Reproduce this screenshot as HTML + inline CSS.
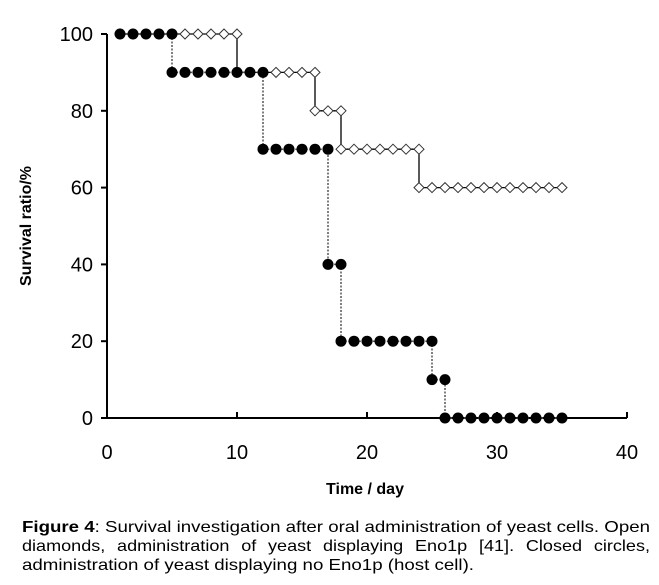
<!DOCTYPE html>
<html><head><meta charset="utf-8"><style>
html,body{margin:0;padding:0;background:#fff;}
svg{display:block;font-family:"Liberation Sans",Arial,sans-serif;}
</style></head><body>
<svg id="chart" width="659" height="585" viewBox="0 0 659 585">
<g id="axes"></g>
<g id="marks"></g>
<text x="31" y="226" transform="rotate(-90 31 226)" text-anchor="middle" font-size="16" font-weight="bold">Survival ratio/%</text>
<text x="365" y="494" text-anchor="middle" font-size="16" font-weight="bold">Time / day</text>
<g font-size="16">
<text x="22" y="532" textLength="628" lengthAdjust="spacingAndGlyphs"><tspan font-weight="bold">Figure 4</tspan>: Survival investigation after oral administration of yeast cells. Open</text>
<text x="22" y="551" textLength="628" lengthAdjust="spacingAndGlyphs" word-spacing="6">diamonds, administration of yeast displaying Eno1p [41]. Closed circles,</text>
<text x="22" y="570" textLength="452" lengthAdjust="spacingAndGlyphs">administration of yeast displaying no Eno1p (host cell).</text>
</g>
</svg>
<script>
const xTicks=[0,10,20,30,40];
const yTicks=[0,20,40,60,80,100];
// open diamonds (Eno1p): step segments
const dStart=[1,10,16,18,24];
const dEnd=[10,16,18,24,35];
const dVal=[100,90,80,70,60];
// closed circles (host cell)
const cStart=[1,5,12,17,18,25,26];
const cEnd=[5,12,17,18,25,26,35];
const cVal=[100,90,70,40,20,10,0];

const X0=107,X1=627,Y0=418,Y1=34;
const sx=v=>X0+(v-0)/40*(X1-X0);
const sy=v=>Y0-(v-0)/100*(Y0-Y1);
const NS="http://www.w3.org/2000/svg";
function mk(tag,attrs,parent){const e=document.createElementNS(NS,tag);for(const k in attrs)e.setAttribute(k,attrs[k]);parent.appendChild(e);return e;}
const axes=document.getElementById('axes'),marks=document.getElementById('marks');

let e=mk('line',{x1:X0,y1:Y1,x2:X0,y2:Y0,stroke:'#000','stroke-width':2},axes);


e=mk('line',{x1:X0,y1:Y0,x2:X1,y2:Y0,stroke:'#000','stroke-width':2},axes);


yTicks.forEach(v=>{
 mk('line',{x1:X0-6,y1:sy(v),x2:X0,y2:sy(v),stroke:'#000','stroke-width':2},axes);
 const t=mk('text',{x:X0-14,y:sy(v)+7,'text-anchor':'end','font-size':20},axes);t.textContent=v;
 
 
});
xTicks.forEach(v=>{
 if(v>0)mk('line',{x1:sx(v),y1:Y0-6,x2:sx(v),y2:Y0,stroke:'#000','stroke-width':2},axes);
 const t=mk('text',{x:sx(v),y:Y0+41,'text-anchor':'middle','font-size':20},axes);t.textContent=v;
 
 
});

function series(S,E,V,kind){
 const g=mk('g',{},marks);
 
 
 let pts=[];
 for(let i=0;i<S.length;i++){pts.push([sx(S[i]),sy(V[i])]);pts.push([sx(E[i]),sy(V[i])]);}
 const p=mk('polyline',{points:pts.map(q=>q.join(',')).join(' '),fill:'none',stroke:kind==='d'?'#000':'#555','stroke-width':kind==='d'?1.3:1.5,'stroke-dasharray':kind==='d'?'none':'2,1.5'},g);
 
 
 for(let i=0;i<S.length;i++){
  for(let d=S[i];d<=E[i];d++){
   const x=sx(d),y=sy(V[i]);
   let m;
   if(kind==='d') m=mk('polygon',{points:`${x},${y-5} ${x+5},${y} ${x},${y+5} ${x-5},${y}`,fill:'#fff',stroke:'#333','stroke-width':1},g);
   else m=mk('circle',{cx:x,cy:y,r:5.5,fill:'#000'},g);
   
   
  }
 }
}
series(dStart,dEnd,dVal,'d');
series(cStart,cEnd,cVal,'c');
</script>
</body></html>
